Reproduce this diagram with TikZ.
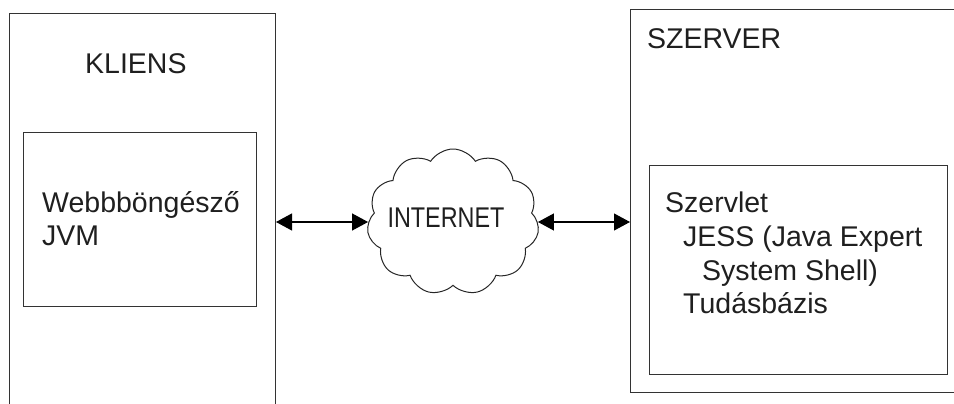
\documentclass[tikz,border=0pt]{standalone}
\usepackage{fontspec}
\setmainfont{Liberation Sans}
\usetikzlibrary{shapes.symbols,arrows.meta}
\tikzset{
  box/.style={draw=black!80, line width=1pt, rectangle, inner sep=0pt},
  lbl/.style={anchor=base west, inner sep=0pt, font=\fontsize{28.5}{34}\selectfont, text=black!88},
  link/.style={draw=black, line width=1.1pt, {Triangle[length=16pt,width=17pt]}-{Triangle[length=16pt,width=17pt]}},
}
\begin{document}
\begin{tikzpicture}[x=1pt,y=-1pt]
\useasboundingbox (0,0) rectangle (954,404);
% outer boxes (extend beyond the page)
\node[box, minimum width=266pt, minimum height=420pt, anchor=north west] (kl) at (9,13) {};
\node[box, minimum width=340pt, minimum height=383pt, anchor=north west] (sz) at (630,9) {};
% inner boxes
\node[box, minimum width=233pt, minimum height=174pt, anchor=north west] (klin) at (23,132) {};
\node[box, minimum width=298pt, minimum height=209pt, anchor=north west] (szin) at (649,165) {};
% titles
\node[lbl] (klt) at (85,74) {KLIENS};
\node[lbl] (szt) at (647,49) {SZERVER};
% client contents
\node[lbl] (web) at (42,212) {Webbböngésző};
\node[lbl] (jvm) at (42,245) {JVM};
% server contents
\node[lbl] (srv) at (665,212) {Szervlet};
\node[lbl] (jess) at (683,246) {JESS (Java Expert};
\node[lbl] (ess) at (702,280) {System Shell)};
\node[lbl] (tud) at (683,313) {Tudásbázis};
% cloud
\node[cloud, draw=black!85, line width=1pt, cloud puffs=11, cloud puff arc=115, aspect=1.2,
      minimum width=172pt, minimum height=146pt, inner sep=0pt] (net) at (453,222) {};
\node[lbl, anchor=base] (nett) at (446,227) {\scalebox{0.82}[1]{INTERNET}};
% connectors
\draw[link] (kl.east |- net.west) -- (net.west);
\draw[link] (net.east) -- (sz.west |- net.east);
\end{tikzpicture}
\end{document}
